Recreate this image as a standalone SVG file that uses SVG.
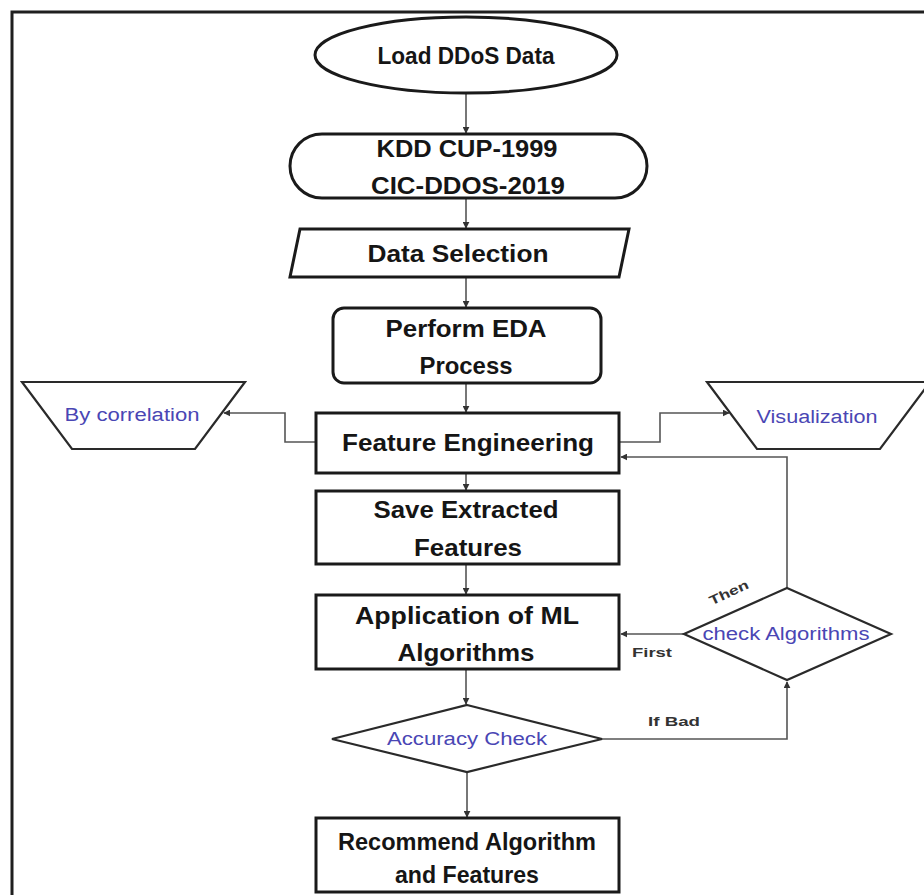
<svg xmlns="http://www.w3.org/2000/svg" width="924" height="895" viewBox="0 0 924 895">
<defs>
<style>
.shape{fill:#fff;stroke:#1a1a1a;stroke-width:3}
.thin{fill:#fff;stroke:#2a2a2a;stroke-width:2.2}
.main{font-family:"Liberation Sans",Arial,sans-serif;font-weight:bold;font-size:24px;fill:#151515;text-anchor:middle}
.blue{font-family:"Liberation Sans",Arial,sans-serif;font-size:18px;fill:#4a46b4;text-anchor:middle}
.lbl{font-family:"Liberation Sans",Arial,sans-serif;font-weight:bold;font-size:13px;fill:#333;text-anchor:middle}
.conn{fill:none;stroke:#555;stroke-width:1.6}
</style>
<marker id="arr" viewBox="0 0 10 10" refX="9" refY="5" markerWidth="7" markerHeight="7" markerUnits="userSpaceOnUse" orient="auto">
<path d="M0,0 L10,5 L0,10 z" fill="#333"/>
</marker>
</defs>
<rect width="924" height="895" fill="#fff"/>
<path d="M12,895 V12 H924" fill="none" stroke="#1f1f1f" stroke-width="3"/>

<g id="connectors">
<path class="conn" d="M466,93 V133" marker-end="url(#arr)"/>
<path class="conn" d="M466,198 V228" marker-end="url(#arr)"/>
<path class="conn" d="M466,277 V307" marker-end="url(#arr)"/>
<path class="conn" d="M466,383 V412" marker-end="url(#arr)"/>
<path class="conn" d="M466,473 V490" marker-end="url(#arr)"/>
<path class="conn" d="M466,564 V594" marker-end="url(#arr)"/>
<path class="conn" d="M466,669 V704" marker-end="url(#arr)"/>
<path class="conn" d="M467,772 V817" marker-end="url(#arr)"/>
<path class="conn" d="M316,442 H285 V413 H224" marker-end="url(#arr)"/>
<path class="conn" d="M619,442 H660 V413 H729" marker-end="url(#arr)"/>
<path class="conn" d="M787,588 V457 H621" marker-end="url(#arr)"/>
<path class="conn" d="M684,634 H621" marker-end="url(#arr)"/>
<path class="conn" d="M602,739 H787 V682" marker-end="url(#arr)"/>
<text class="lbl" x="652" y="657" textLength="40" lengthAdjust="spacingAndGlyphs">First</text>
<text class="lbl" x="674" y="726" textLength="52" lengthAdjust="spacingAndGlyphs">If Bad</text>
<text class="lbl" transform="translate(729,593) rotate(-25)" x="0" y="4" textLength="42" lengthAdjust="spacingAndGlyphs">Then</text>
</g>

<g id="load">
<ellipse class="shape" cx="466" cy="55" rx="151" ry="38"/>
<text class="main" x="466" y="64" textLength="177" lengthAdjust="spacingAndGlyphs">Load DDoS Data</text>
</g>

<g id="datasets">
<rect class="shape" x="290" y="134" width="357" height="64" rx="32" ry="32"/>
<text class="main" x="467" y="157" textLength="181" lengthAdjust="spacingAndGlyphs">KDD CUP-1999</text>
<text class="main" x="468" y="194" textLength="194" lengthAdjust="spacingAndGlyphs">CIC-DDOS-2019</text>
</g>

<g id="selection">
<path class="shape" d="M300,229 H629 L619,277 H290 Z"/>
<text class="main" x="458" y="262" textLength="181" lengthAdjust="spacingAndGlyphs">Data Selection</text>
</g>

<g id="eda">
<rect class="shape" x="333" y="308" width="268" height="75" rx="11" ry="11"/>
<text class="main" x="466" y="337" textLength="161" lengthAdjust="spacingAndGlyphs">Perform EDA</text>
<text class="main" x="466" y="374" textLength="93" lengthAdjust="spacingAndGlyphs">Process</text>
</g>

<g id="feature-engineering">
<rect class="shape" x="316" y="413" width="303" height="60"/>
<text class="main" x="468" y="451" textLength="252" lengthAdjust="spacingAndGlyphs">Feature Engineering</text>
</g>

<g id="by-correlation">
<path class="thin" d="M22,382 H245 L195,449 H72 Z"/>
<text class="blue" x="132" y="421" textLength="135" lengthAdjust="spacingAndGlyphs">By correlation</text>
</g>

<g id="visualization">
<path class="thin" d="M707,382 H930 L880,449 H757 Z"/>
<text class="blue" x="817" y="423" textLength="121" lengthAdjust="spacingAndGlyphs">Visualization</text>
</g>

<g id="save">
<rect class="shape" x="316" y="491" width="303" height="73"/>
<text class="main" x="466" y="518" textLength="185" lengthAdjust="spacingAndGlyphs">Save Extracted</text>
<text class="main" x="468" y="556" textLength="108" lengthAdjust="spacingAndGlyphs">Features</text>
</g>

<g id="application">
<rect class="shape" x="316" y="595" width="303" height="74"/>
<text class="main" x="467" y="624" textLength="224" lengthAdjust="spacingAndGlyphs">Application of ML</text>
<text class="main" x="466" y="661" textLength="137" lengthAdjust="spacingAndGlyphs">Algorithms</text>
</g>

<g id="check-algorithms">
<path class="thin" d="M787,588 L891,634 L787,680 L684,634 Z"/>
<text class="blue" x="786" y="640" textLength="167" lengthAdjust="spacingAndGlyphs">check Algorithms</text>
</g>

<g id="accuracy-check">
<path class="thin" d="M467,705 L602,739 L467,772 L332,739 Z"/>
<text class="blue" x="467" y="745" textLength="160" lengthAdjust="spacingAndGlyphs">Accuracy Check</text>
</g>

<g id="recommend">
<rect class="shape" x="316" y="818" width="303" height="74"/>
<text class="main" x="467" y="850" textLength="258" lengthAdjust="spacingAndGlyphs">Recommend Algorithm</text>
<text class="main" x="467" y="883" textLength="144" lengthAdjust="spacingAndGlyphs">and Features</text>
</g>
</svg>
